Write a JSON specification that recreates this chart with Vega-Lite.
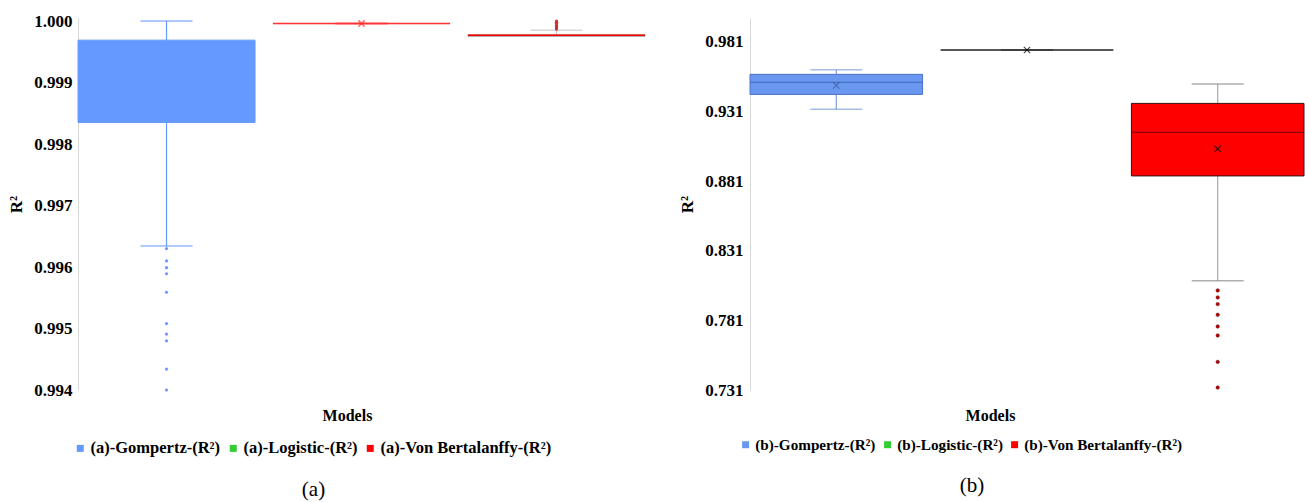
{
  "$schema": "https://vega.github.io/schema/vega-lite/v6.json",
  "background": "white",
  "padding": {"left": 7, "top": 12, "right": 4, "bottom": 2},
  "spacing": 32,
  "resolve": {"scale": {"color": "independent"}, "legend": {"color": "independent"}},
  "config": {
    "view": {"stroke": null},
    "font": "Liberation Serif",
    "text": {"font": "Liberation Serif"},
    "axis": {"grid": false, "ticks": false, "labelFont": "Liberation Serif", "labelFontWeight": "bold", "labelFontSize": 17, "labelColor": "#000", "titleFont": "Liberation Serif", "titleFontWeight": "bold", "titleColor": "#000"},
    "axisX": {"domain": false, "labels": false, "titleFontSize": 16, "titlePadding": 17},
    "axisY": {"domainColor": "#d9d9d9", "domainWidth": 1, "labelPadding": 6, "titlePadding": 8, "titleFontSize": 17},
    "legend": {"direction": "horizontal", "columns": 3, "symbolType": "square", "symbolSize": 49, "symbolStrokeWidth": 0, "labelFont": "Liberation Serif", "labelFontWeight": "bold", "labelFontSize": 16.5, "labelColor": "#000", "columnPadding": 4, "labelOffset": 2, "labelLimit": 400}
  },
  "datasets": {
    "a_stats": [
      {"model": "(a)-Gompertz-(R²)", "lower": 0.99634, "q1": 0.99835, "median": null, "q3": 0.99969, "upper": 1.0, "mean": null},
      {"model": "(a)-Logistic-(R²)", "lower": 0.99996, "q1": 0.99996, "median": 0.99996, "q3": 0.99996, "upper": 0.99996, "mean": 0.99996},
      {"model": "(a)-Von Bertalanffy-(R²)", "lower": 0.99976, "q1": 0.99975, "median": 0.99977, "q3": 0.99978, "upper": 0.99985, "mean": null}
    ],
    "a_out": [
      {"model": "(a)-Gompertz-(R²)", "value": 0.9963},
      {"model": "(a)-Gompertz-(R²)", "value": 0.9961},
      {"model": "(a)-Gompertz-(R²)", "value": 0.99599},
      {"model": "(a)-Gompertz-(R²)", "value": 0.99589},
      {"model": "(a)-Gompertz-(R²)", "value": 0.99559},
      {"model": "(a)-Gompertz-(R²)", "value": 0.99508},
      {"model": "(a)-Gompertz-(R²)", "value": 0.99491},
      {"model": "(a)-Gompertz-(R²)", "value": 0.9948},
      {"model": "(a)-Gompertz-(R²)", "value": 0.99434},
      {"model": "(a)-Gompertz-(R²)", "value": 0.994},
      {"model": "(a)-Von Bertalanffy-(R²)", "value": 1.0},
      {"model": "(a)-Von Bertalanffy-(R²)", "value": 0.99998},
      {"model": "(a)-Von Bertalanffy-(R²)", "value": 0.99996},
      {"model": "(a)-Von Bertalanffy-(R²)", "value": 0.99993},
      {"model": "(a)-Von Bertalanffy-(R²)", "value": 0.99991},
      {"model": "(a)-Von Bertalanffy-(R²)", "value": 0.99989},
      {"model": "(a)-Von Bertalanffy-(R²)", "value": 0.99987}
    ],
    "b_stats": [
      {"model": "(b)-Gompertz-(R²)", "lower": 0.93258, "q1": 0.94316, "median": 0.95179, "q3": 0.95755, "upper": 0.96086, "mean": 0.94963},
      {"model": "(b)-Logistic-(R²)", "lower": 0.97503, "q1": 0.97503, "median": 0.97503, "q3": 0.97503, "upper": 0.97503, "mean": 0.97503},
      {"model": "(b)-Von Bertalanffy-(R²)", "lower": 0.80945, "q1": 0.88466, "median": 0.91586, "q3": 0.93671, "upper": 0.95058, "mean": 0.90407}
    ],
    "b_out": [
      {"model": "(b)-Von Bertalanffy-(R²)", "value": 0.80247},
      {"model": "(b)-Von Bertalanffy-(R²)", "value": 0.79744},
      {"model": "(b)-Von Bertalanffy-(R²)", "value": 0.79264},
      {"model": "(b)-Von Bertalanffy-(R²)", "value": 0.785},
      {"model": "(b)-Von Bertalanffy-(R²)", "value": 0.77659},
      {"model": "(b)-Von Bertalanffy-(R²)", "value": 0.77012},
      {"model": "(b)-Von Bertalanffy-(R²)", "value": 0.75118},
      {"model": "(b)-Von Bertalanffy-(R²)", "value": 0.73273}
    ]
  },
  "hconcat": [
    {
      "width": 567,
      "height": 372,
      "title": {"text": "(a)", "orient": "bottom", "anchor": "middle", "frame": "group", "dx": -48, "offset": 22, "fontSize": 21, "fontWeight": "normal", "font": "Liberation Serif", "color": "#000"},
      "encoding": {
        "x": {"field": "model", "type": "nominal", "sort": null,
          "scale": {"domain": ["(a)-Gompertz-(R²)", "(a)-Logistic-(R²)", "(a)-Von Bertalanffy-(R²)"], "paddingInner": 0.092, "paddingOuter": 0},
          "axis": {"title": "Models", "titleX": 269, "titleFont": "Liberation Serif"}}
      },
      "layer": [
        {
          "data": {"name": "a_stats"},
          "mark": {"type": "rule", "strokeWidth": 1.2},
          "encoding": {
            "y": {"field": "lower", "type": "quantitative", "title": "R²",
              "scale": {"domain": [0.994, 1.00005], "nice": false, "zero": false},
              "axis": {"values": [0.994, 0.995, 0.996, 0.997, 0.998, 0.999, 1.0], "format": ".3f", "labelFont": "Liberation Serif", "titleFont": "Liberation Serif"}},
            "y2": {"field": "upper"},
            "stroke": {"condition": [
              {"test": "datum.model === '(a)-Gompertz-(R²)'", "value": "#6699FF"},
              {"test": "datum.model === '(a)-Logistic-(R²)'", "value": "#FF3333"}], "value": "#C8C8C8"}
          }
        },
        {
          "data": {"name": "a_stats"},
          "mark": {"type": "tick", "size": 52, "thickness": 1.5},
          "encoding": {
            "y": {"field": "lower", "type": "quantitative", "title": "R²"},
            "color": {"condition": [
              {"test": "datum.model === '(a)-Gompertz-(R²)'", "value": "#6699FF"},
              {"test": "datum.model === '(a)-Logistic-(R²)'", "value": "#FF3333"}], "value": "#C8C8C8"}
          }
        },
        {
          "data": {"name": "a_stats"},
          "mark": {"type": "tick", "size": 52, "thickness": 1.5},
          "encoding": {
            "y": {"field": "upper", "type": "quantitative", "title": "R²"},
            "color": {"condition": [
              {"test": "datum.model === '(a)-Gompertz-(R²)'", "value": "#6699FF"},
              {"test": "datum.model === '(a)-Logistic-(R²)'", "value": "#FF3333"}], "value": "#C8C8C8"}
          }
        },
        {
          "data": {"name": "a_stats"},
          "mark": {"type": "bar", "strokeWidth": 1},
          "encoding": {
            "y": {"field": "q1", "type": "quantitative", "title": "R²"},
            "y2": {"field": "q3"},
            "color": {"field": "model", "type": "nominal",
              "scale": {"domain": ["(a)-Gompertz-(R²)", "(a)-Logistic-(R²)", "(a)-Von Bertalanffy-(R²)"], "range": ["#6699FF", "#33CC33", "#FF0000"]},
              "legend": {"title": null, "orient": "none", "legendX": -6, "legendY": 422, "labelFont": "Liberation Serif"}},
            "stroke": {"condition": [
              {"test": "datum.model === '(a)-Gompertz-(R²)'", "value": "#6699FF"},
              {"test": "datum.model === '(a)-Logistic-(R²)'", "value": "#FF3333"}], "value": "#B0B0B0"}
          }
        },
        {
          "data": {"name": "a_stats"},
          "mark": {"type": "bar", "fillOpacity": 0, "strokeWidth": 1.5},
          "encoding": {
            "y": {"field": "median", "type": "quantitative", "title": "R²"},
            "y2": {"field": "median"},
            "stroke": {"condition": [
              {"test": "datum.model === '(a)-Logistic-(R²)'", "value": "#FF3333"}], "value": "#FF0000"}
          }
        },
        {
          "data": {"name": "a_stats"},
          "mark": {"type": "point", "shape": "M-1,-1L1,1M-1,1L1,-1", "size": 40, "filled": false, "strokeWidth": 1.6},
          "encoding": {
            "y": {"field": "mean", "type": "quantitative", "title": "R²"},
            "stroke": {"value": "#FF3333"}
          }
        },
        {
          "data": {"name": "a_out"},
          "mark": {"type": "circle", "size": 10, "opacity": 1},
          "encoding": {
            "y": {"field": "value", "type": "quantitative", "title": "R²"},
            "color": {"condition": [
              {"test": "datum.model === '(a)-Gompertz-(R²)'", "value": "#6699FF"}], "value": "#D03030"}
          }
        }
      ]
    },
    {
      "width": 554,
      "height": 372,
      "title": {"text": "(b)", "orient": "bottom", "anchor": "middle", "frame": "group", "dx": -55, "offset": 22, "fontSize": 21, "fontWeight": "normal", "font": "Liberation Serif", "color": "#000"},
      "encoding": {
        "x": {"field": "model", "type": "nominal", "sort": null,
          "scale": {"domain": ["(b)-Gompertz-(R²)", "(b)-Logistic-(R²)", "(b)-Von Bertalanffy-(R²)"], "paddingInner": 0.095, "paddingOuter": 0},
          "axis": {"title": "Models", "titleX": 240, "titleFont": "Liberation Serif"}}
      },
      "layer": [
        {
          "data": {"name": "b_stats"},
          "mark": {"type": "rule", "strokeWidth": 1.2},
          "encoding": {
            "y": {"field": "lower", "type": "quantitative", "title": "R²",
              "scale": {"domain": [0.731, 0.998], "nice": false, "zero": false},
              "axis": {"values": [0.731, 0.781, 0.831, 0.881, 0.931, 0.981], "format": ".3f", "labelPadding": 7, "labelFont": "Liberation Serif", "titleFont": "Liberation Serif"}},
            "y2": {"field": "upper"},
            "stroke": {"condition": [
              {"test": "datum.model === '(b)-Gompertz-(R²)'", "value": "#7F9FD8"},
              {"test": "datum.model === '(b)-Logistic-(R²)'", "value": "#404040"}], "value": "#A6A6A6"}
          }
        },
        {
          "data": {"name": "b_stats"},
          "mark": {"type": "tick", "size": 52, "thickness": 1.5},
          "encoding": {
            "y": {"field": "lower", "type": "quantitative", "title": "R²"},
            "color": {"condition": [
              {"test": "datum.model === '(b)-Gompertz-(R²)'", "value": "#7F9FD8"},
              {"test": "datum.model === '(b)-Logistic-(R²)'", "value": "#000000"}], "value": "#8C8C8C"}
          }
        },
        {
          "data": {"name": "b_stats"},
          "mark": {"type": "tick", "size": 52, "thickness": 1.5},
          "encoding": {
            "y": {"field": "upper", "type": "quantitative", "title": "R²"},
            "color": {"condition": [
              {"test": "datum.model === '(b)-Gompertz-(R²)'", "value": "#7F9FD8"},
              {"test": "datum.model === '(b)-Logistic-(R²)'", "value": "#000000"}], "value": "#8C8C8C"}
          }
        },
        {
          "data": {"name": "b_stats"},
          "mark": {"type": "bar", "strokeWidth": 1},
          "encoding": {
            "y": {"field": "q1", "type": "quantitative", "title": "R²"},
            "y2": {"field": "q3"},
            "color": {"field": "model", "type": "nominal",
              "scale": {"domain": ["(b)-Gompertz-(R²)", "(b)-Logistic-(R²)", "(b)-Von Bertalanffy-(R²)"], "range": ["#6A98F0", "#33CC33", "#FF0000"]},
              "legend": {"title": null, "orient": "none", "legendX": -12, "legendY": 419, "labelFont": "Liberation Serif", "labelFontSize": 15.2}},
            "stroke": {"condition": [
              {"test": "datum.model === '(b)-Gompertz-(R²)'", "value": "#4A72C4"},
              {"test": "datum.model === '(b)-Logistic-(R²)'", "value": "#404040"}], "value": "#3A1010"}
          }
        },
        {
          "data": {"name": "b_stats"},
          "mark": {"type": "bar", "fillOpacity": 0, "strokeWidth": 1.2},
          "encoding": {
            "y": {"field": "median", "type": "quantitative", "title": "R²"},
            "y2": {"field": "median"},
            "stroke": {"condition": [
              {"test": "datum.model === '(b)-Gompertz-(R²)'", "value": "#4A72C4"},
              {"test": "datum.model === '(b)-Logistic-(R²)'", "value": "#404040"}], "value": "#8B0000"}
          }
        },
        {
          "data": {"name": "b_stats"},
          "mark": {"type": "point", "shape": "M-1,-1L1,1M-1,1L1,-1", "size": 40, "filled": false, "strokeWidth": 1.2},
          "encoding": {
            "y": {"field": "mean", "type": "quantitative", "title": "R²"},
            "stroke": {"condition": [
              {"test": "datum.model === '(b)-Gompertz-(R²)'", "value": "#3A5A9A"}], "value": "#000000"}
          }
        },
        {
          "data": {"name": "b_out"},
          "mark": {"type": "circle", "size": 12, "opacity": 1, "stroke": "#5A0000", "strokeWidth": 0.5},
          "encoding": {
            "y": {"field": "value", "type": "quantitative", "title": "R²"},
            "color": {"value": "#C00000"}
          }
        }
      ]
    }
  ]
}
